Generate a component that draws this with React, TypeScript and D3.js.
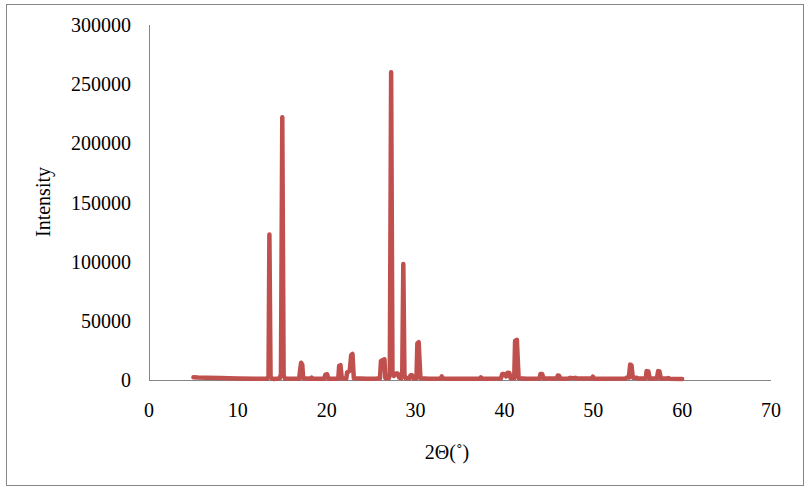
import React from "react";
import * as d3 from "d3";

const twoTheta: number[] = [
  5.0, 5.5, 6.5, 8, 10, 12, 13.3, 13.45, 13.55, 13.68, 13.8, 14.0, 14.7, 14.85, 15.0, 15.15, 15.3,
  16.9, 17.0, 17.12, 17.25, 17.35, 18.2, 18.3, 18.4, 19.7, 19.85, 20.05, 20.2,
  21.3, 21.4, 21.55, 21.7, 22.2, 22.3, 22.45, 22.6, 22.75, 22.9, 23.05, 24.5, 25.5,
  26.0, 26.1, 26.5, 26.6, 27.0, 27.1, 27.25, 27.4, 27.55, 27.8, 28.0, 28.15, 28.4,
  28.5, 28.62, 28.75, 28.9, 29.3, 29.45, 29.6, 29.8, 30.1, 30.2, 30.35, 30.45, 30.55,
  31.5, 32.8, 32.95, 33.1, 34.5, 37.2, 37.35, 37.5, 39.6, 39.75, 39.95, 40.2, 40.35, 40.55, 40.7,
  41.1, 41.2, 41.4, 41.5, 41.6, 42.5, 43.95, 44.05, 44.25, 44.4, 45.9, 46.0, 46.15, 46.3,
  47.2, 47.4, 47.6, 48.0, 48.2, 49.8, 49.95, 50.1, 53.6, 53.8, 54.0, 54.15, 54.3, 54.45,
  54.9, 55.1, 55.9, 56.0, 56.2, 56.35, 57.15, 57.3, 57.45, 57.6, 58.3, 58.45, 58.6, 60.0,
];

const intensity: number[] = [
  2300, 2100, 1900, 1600, 1300, 1100, 1000, 3000, 123000, 3000, 1500, 900, 1200, 5000, 222000, 4000, 1200,
  1100, 8000, 14500, 13000, 1500, 1000, 2000, 1000, 1000, 4500, 4800, 1000,
  1100, 12000, 12500, 1200, 1200, 6500, 7000, 8000, 21000, 22000, 1500, 1000, 1000,
  1500, 16000, 17500, 1500, 1500, 5000, 260000, 5000, 3500, 5500, 5500, 2000, 1500,
  5000, 98000, 4000, 1500, 1500, 4000, 4000, 1200, 1500, 31000, 32000, 16000, 1500,
  1000, 1200, 3000, 1200, 1000, 1000, 2200, 1000, 1200, 5000, 5000, 3000, 6200, 6000, 1500,
  1500, 33000, 34000, 17000, 1500, 1000, 1200, 5000, 5000, 1200, 1200, 3800, 3600, 1100,
  1200, 1800, 1500, 1800, 1200, 1200, 2800, 1100, 1200, 2200, 2000, 13000, 12500, 2000,
  1800, 1200, 1200, 7500, 7200, 1200, 1200, 7500, 7200, 1300, 1200, 1700, 1000, 800,
];

const xTicks: number[] = [0, 10, 20, 30, 40, 50, 60, 70];
const yTicks: number[] = [0, 50000, 100000, 150000, 200000, 250000, 300000];

const xTitle = "2Θ(˚)";
const yTitle = "Intensity";

export default function App() {
  const W = 810;
  const H = 491;
  const left = 149;
  const right = 771;
  const top = 25;
  const bottom = 380;

  const x = d3.scaleLinear().domain([0, 70]).range([left, right]);
  const y = d3.scaleLinear().domain([0, 300000]).range([bottom, top]);

  const pts: [number, number][] = twoTheta.map((t, i) => [t, intensity[i]]);
  const line = d3
    .line<[number, number]>()
    .x((d) => x(d[0]))
    .y((d) => y(d[1]))
    .curve(d3.curveLinear);

  const font = "'Liberation Serif', serif";

  return (
    <svg
      width={W}
      height={H}
      style={{ position: "absolute", left: 0, top: 0, background: "#fff" }}
    >
      <rect x={6.5} y={4.5} width={797} height={481} fill="#fff" stroke="#868686" strokeWidth={1} />
      <line x1={left + 0.5} x2={left + 0.5} y1={top} y2={bottom + 0.5} stroke="#868686" strokeWidth={1} />
      <line x1={left} x2={right} y1={bottom + 0.5} y2={bottom + 0.5} stroke="#868686" strokeWidth={1} />
      <path
        d={line(pts) || ""}
        fill="none"
        stroke="#c0504d"
        strokeWidth={4.5}
        strokeLinejoin="round"
        strokeLinecap="round"
      />
      {yTicks.map((v) => (
        <text
          key={"y" + v}
          x={131}
          y={y(v)}
          dy="0.35em"
          textAnchor="end"
          fontFamily={font}
          fontSize={20}
          fill="#000"
        >
          {v}
        </text>
      ))}
      {xTicks.map((v) => (
        <text
          key={"x" + v}
          x={x(v)}
          y={410}
          dy="0.35em"
          textAnchor="middle"
          fontFamily={font}
          fontSize={20}
          fill="#000"
        >
          {v}
        </text>
      ))}
      <text
        x={447}
        y={452}
        dy="0.35em"
        textAnchor="middle"
        fontFamily={font}
        fontSize={20}
        fill="#000"
      >
        {xTitle}
      </text>
      <text
        transform={`translate(43,202) rotate(-90)`}
        dy="0.35em"
        textAnchor="middle"
        fontFamily={font}
        fontSize={20}
        fill="#000"
      >
        {yTitle}
      </text>
    </svg>
  );
}
